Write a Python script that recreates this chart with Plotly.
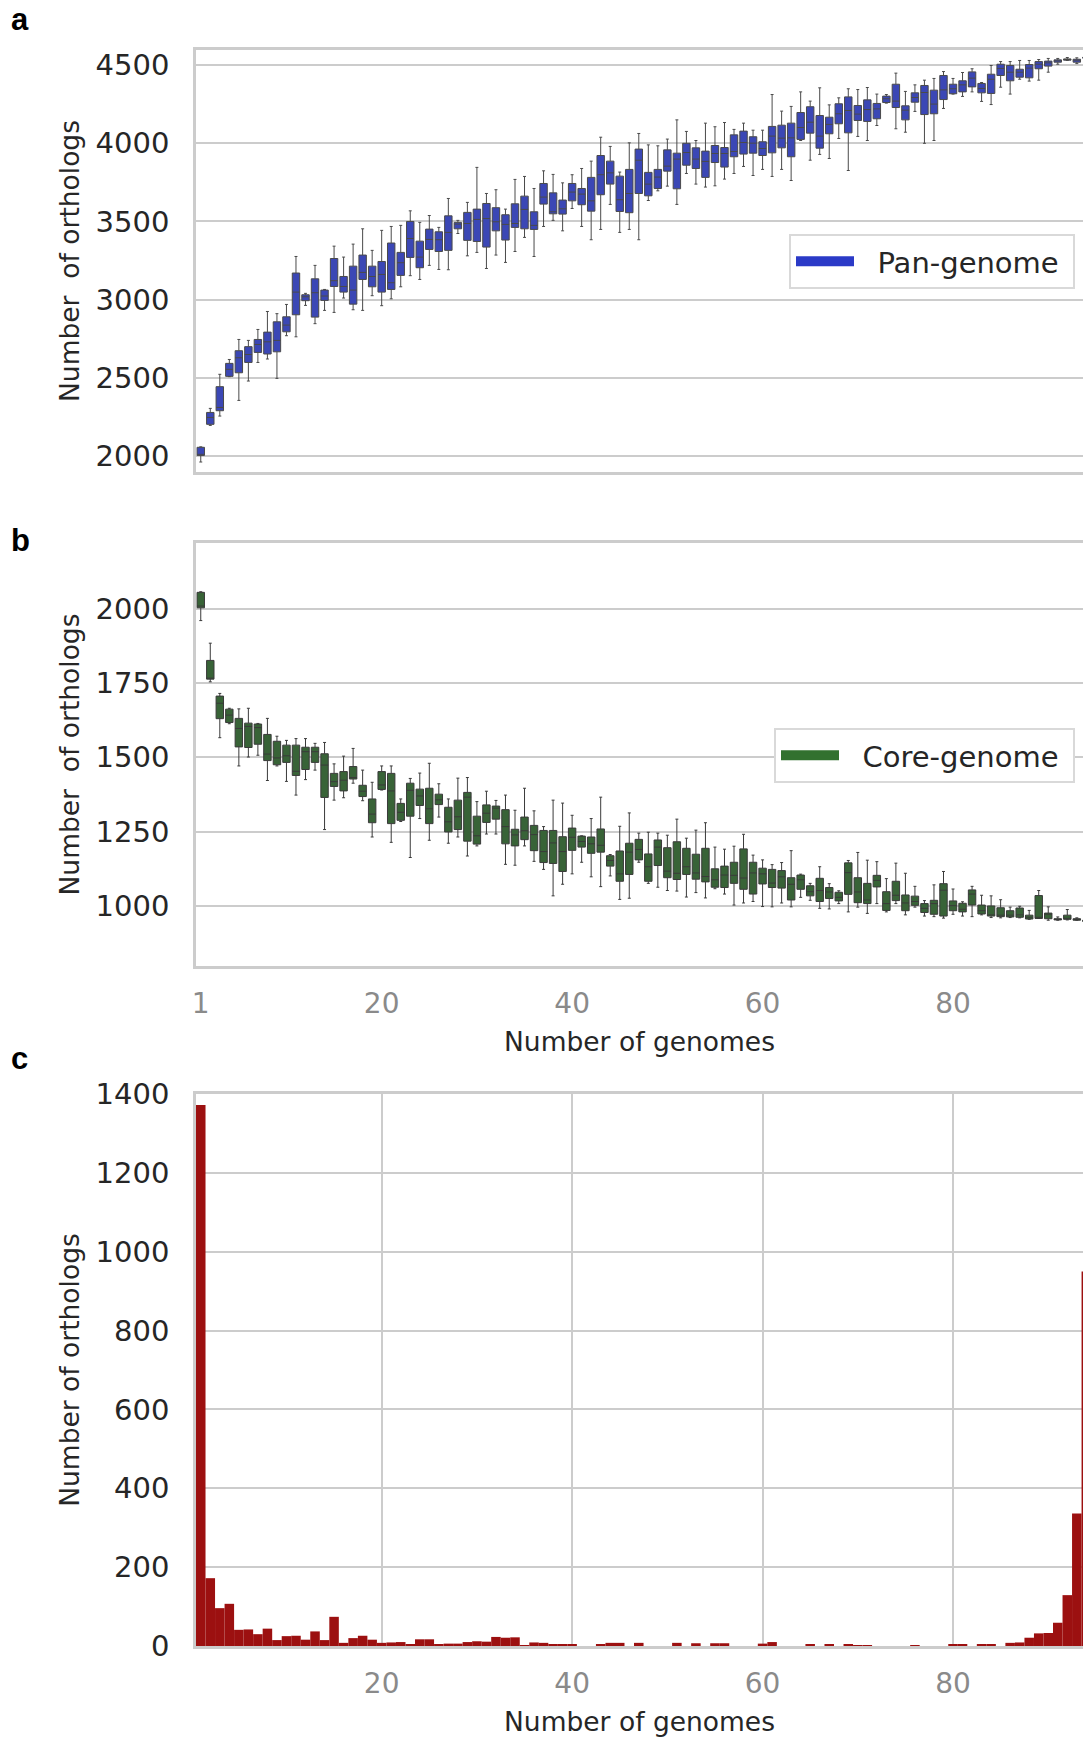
import plotly.graph_objects as go

W, H = 1083, 1739
genomes = list(range(1, 95))

# ---- Panel a: pan-genome (per number of genomes) ----
pan_q1 = [2003, 2202, 2289, 2509, 2532, 2598, 2662, 2652, 2666, 2794,
          2903, 2993, 2888, 2995, 3084, 3048, 2971, 3129, 3082, 3048,
          3065, 3155, 3270, 3204, 3321, 3308, 3315, 3453, 3379, 3372,
          3336, 3440, 3381, 3462, 3453, 3449, 3611, 3549, 3547, 3632,
          3607, 3566, 3671, 3739, 3564, 3556, 3679, 3664, 3711, 3822,
          3709, 3860, 3839, 3782, 3877, 3848, 3914, 3931, 3937, 3922,
          3939, 3971, 3914, 4025, 4065, 3969, 4061, 4125, 4067, 4146,
          4140, 4157, 4261, 4229, 4150, 4263, 4184, 4189, 4280, 4317,
          4329, 4361, 4323, 4319, 4434, 4400, 4423, 4419, 4477, 4494,
          4519, 4532, 4519, 4545]
pan_med = [2010, 2246, 2310, 2554, 2628, 2649, 2713, 2730, 2739, 2837,
           3048, 3018, 3044, 3023, 3121, 3084, 3061, 3174, 3148, 3161,
           3108, 3236, 3391, 3272, 3385, 3383, 3430, 3483, 3487, 3513,
           3519, 3498, 3481, 3487, 3577, 3475, 3656, 3562, 3581, 3688,
           3675, 3632, 3799, 3811, 3639, 3679, 3892, 3739, 3784, 3854,
           3899, 3941, 3899, 3884, 3935, 3935, 3948, 4005, 4001, 3967,
           4046, 4033, 4035, 4101, 4135, 4046, 4121, 4189, 4210, 4187,
           4216, 4220, 4285, 4270, 4212, 4293, 4325, 4251, 4342, 4349,
           4374, 4417, 4351, 4410, 4479, 4455, 4455, 4481, 4506, 4515,
           4528, 4536, 4532, 4548]
pan_q3 = [2055, 2278, 2443, 2592, 2673, 2699, 2745, 2792, 2858, 2890,
          3170, 3031, 3133, 3061, 3263, 3148, 3214, 3285, 3214, 3244,
          3362, 3302, 3500, 3374, 3451, 3434, 3536, 3494, 3558, 3579,
          3615, 3588, 3543, 3613, 3662, 3562, 3743, 3683, 3637, 3743,
          3711, 3782, 3922, 3886, 3790, 3833, 3963, 3814, 3833, 3958,
          3937, 4000, 3971, 3950, 3986, 3973, 4054, 4078, 4042, 4010,
          4108, 4116, 4129, 4197, 4234, 4178, 4167, 4253, 4297, 4242,
          4278, 4255, 4302, 4378, 4240, 4323, 4370, 4340, 4434, 4378,
          4400, 4457, 4383, 4442, 4506, 4498, 4474, 4504, 4523, 4526,
          4534, 4540, 4538, 4550]
pan_lo = [1961, 2195, 2255, 2507, 2355, 2479, 2598, 2620, 2496, 2769,
          2762, 2963, 2846, 2931, 2918, 3010, 2935, 2931, 3025, 2961,
          3005, 3082, 3153, 3129, 3219, 3193, 3191, 3423, 3280, 3302,
          3199, 3285, 3238, 3308, 3398, 3276, 3468, 3507, 3440, 3583,
          3468, 3383, 3449, 3609, 3430, 3449, 3383, 3634, 3696, 3726,
          3609, 3807, 3739, 3720, 3728, 3771, 3807, 3852, 3794, 3833,
          3788, 3833, 3762, 4018, 3892, 3929, 3903, 4031, 3826, 4044,
          4018, 4114, 4257, 4093, 4071, 4204, 4000, 4018, 4223, 4315,
          4300, 4329, 4268, 4248, 4359, 4315, 4410, 4398, 4404, 4455,
          4506, 4530, 4510, 4545]
pan_hi = [2058, 2304, 2522, 2617, 2745, 2739, 2809, 2924, 2910, 2969,
          3276, 3040, 3219, 3065, 3342, 3272, 3355, 3453, 3315, 3443,
          3468, 3475, 3568, 3494, 3538, 3462, 3647, 3507, 3622, 3846,
          3679, 3703, 3579, 3769, 3788, 3711, 3824, 3801, 3747, 3799,
          3839, 3886, 4039, 3980, 3816, 4003, 4063, 3990, 3984, 4027,
          4150, 4076, 4018, 4129, 4106, 4133, 4089, 4129, 4084, 4084,
          4312, 4206, 4236, 4329, 4270, 4355, 4246, 4291, 4349, 4344,
          4357, 4315, 4312, 4449, 4332, 4374, 4404, 4415, 4459, 4415,
          4453, 4477, 4389, 4498, 4523, 4523, 4530, 4530, 4536, 4543,
          4543, 4549, 4547, 4550]

# ---- Panel b: core-genome ----
core_q1 = [2003, 1763, 1630, 1617, 1535, 1533, 1544, 1489, 1475, 1483,
           1439, 1459, 1483, 1365, 1402, 1387, 1427, 1368, 1280, 1392,
           1277, 1288, 1302, 1338, 1277, 1341, 1249, 1257, 1218, 1208,
           1281, 1292, 1209, 1202, 1223, 1186, 1146, 1143, 1116, 1187,
           1198, 1177, 1181, 1134, 1083, 1106, 1155, 1083, 1136, 1095,
           1089, 1106, 1090, 1081, 1063, 1062, 1076, 1056, 1040, 1074,
           1062, 1060, 1020, 1056, 1034, 1015, 1025, 1017, 1039, 1011,
           1008, 1064, 985, 1018, 984, 1002, 978, 972, 966, 984,
           980, 1003, 973, 966, 964, 963, 962, 956, 958, 957,
           953, 955, 952, 948]
core_med = [2009, 1765, 1682, 1642, 1597, 1604, 1600, 1511, 1498, 1505,
            1453, 1519, 1519, 1474, 1418, 1423, 1432, 1386, 1309, 1407,
            1387, 1315, 1389, 1370, 1327, 1357, 1283, 1300, 1366, 1236,
            1312, 1329, 1267, 1239, 1253, 1240, 1183, 1212, 1183, 1231,
            1217, 1209, 1204, 1153, 1108, 1181, 1190, 1132, 1198, 1117,
            1110, 1132, 1111, 1099, 1088, 1104, 1103, 1094, 1111, 1108,
            1077, 1098, 1073, 1088, 1048, 1052, 1047, 1029, 1112, 1047,
            1020, 1086, 1008, 1036, 1010, 1015, 992, 1008, 1053, 1001,
            989, 1040, 984, 970, 969, 969, 970, 962, 962, 972,
            955, 958, 955, 950]
core_q3 = [2055, 1826, 1706, 1662, 1631, 1615, 1612, 1577, 1554, 1541,
           1541, 1534, 1534, 1512, 1446, 1452, 1469, 1406, 1360, 1452,
           1446, 1345, 1413, 1393, 1396, 1376, 1332, 1356, 1382, 1302,
           1340, 1336, 1324, 1258, 1299, 1271, 1254, 1254, 1233, 1262,
           1235, 1232, 1259, 1169, 1185, 1211, 1224, 1175, 1222, 1196,
           1216, 1194, 1174, 1194, 1125, 1134, 1147, 1192, 1147, 1127,
           1123, 1119, 1095, 1104, 1068, 1093, 1062, 1046, 1145, 1095,
           1076, 1103, 1048, 1083, 1037, 1033, 1008, 1019, 1075, 1017,
           1009, 1054, 1003, 1000, 994, 984, 993, 969, 1035, 976,
           957, 969, 957, 952]
core_lo = [1960, 1754, 1566, 1613, 1471, 1501, 1507, 1422, 1471, 1419,
           1373, 1425, 1457, 1257, 1356, 1364, 1413, 1354, 1232, 1390,
           1214, 1284, 1163, 1294, 1221, 1299, 1211, 1232, 1168, 1202,
           1242, 1242, 1140, 1137, 1202, 1150, 1123, 1034, 1073, 1108,
           1147, 1098, 1065, 1101, 1022, 1026, 1147, 1076, 1063, 1052,
           1050, 1030, 1045, 1027, 1058, 1040, 1003, 1010, 1015, 998,
           997, 1010, 997, 1029, 1019, 992, 990, 1008, 980, 996,
           975, 1008, 980, 1008, 970, 996, 966, 964, 959, 972,
           966, 964, 970, 961, 960, 961, 960, 955, 958, 952,
           952, 953, 952, 947]
core_hi = [2057, 1884, 1715, 1665, 1663, 1665, 1614, 1631, 1571, 1557,
           1563, 1563, 1547, 1550, 1478, 1504, 1530, 1457, 1416, 1471,
           1471, 1360, 1429, 1447, 1480, 1411, 1360, 1430, 1432, 1351,
           1386, 1355, 1373, 1322, 1396, 1320, 1267, 1356, 1346, 1305,
           1236, 1294, 1366, 1173, 1268, 1313, 1245, 1248, 1245, 1238,
           1292, 1228, 1255, 1280, 1198, 1191, 1201, 1241, 1171, 1155,
           1139, 1146, 1186, 1107, 1076, 1132, 1075, 1051, 1153, 1180,
           1154, 1149, 1092, 1144, 1110, 1066, 1018, 1071, 1116, 1057,
           1014, 1066, 1036, 1034, 1021, 996, 999, 985, 1052, 997,
           963, 988, 960, 953]

# ---- Panel c: number of orthologs shared by exactly n genomes ----
ortholog_counts = [1372, 172, 96, 107, 41, 42, 30, 44, 15, 25,
                   26, 16, 37, 15, 74, 8, 20, 26, 16, 8,
                   9, 10, 5, 17, 17, 5, 6, 6, 10, 12,
                   11, 23, 21, 22, 2, 9, 8, 5, 4, 3,
                   0, 0, 4, 8, 8, 0, 8, 0, 0, 0,
                   8, 0, 7, 0, 7, 7, 0, 0, 0, 6,
                   10, 0, 0, 0, 3, 0, 3, 0, 5, 2,
                   2, 0, 0, 0, 0, 2, 0, 0, 0, 4,
                   4, 0, 4, 4, 0, 8, 9, 21, 32, 33,
                   59, 129, 336, 950]

pan_ticks = [2000, 2500, 3000, 3500, 4000, 4500]
core_ticks = [1000, 1250, 1500, 1750, 2000]
hist_ticks = [0, 200, 400, 600, 800, 1000, 1200, 1400]
x_ticks_b = [1, 20, 40, 60, 80]
x_ticks_c = [20, 40, 60, 80]

PAN_FILL, PAN_LEG = "#3b47b5", "#2b3ac7"
CORE_FILL, CORE_LEG = "#386337", "#32712f"
HIST_COL = "#9c1010"
GRID = "#cccccc"
TXT = "#262626"
FONT = "DejaVu Sans"

L = 196
def pxx(p):
    return (p - L) / (W - L)
def pxy(p):
    return (H - p) / H

NB = "\u00a0"

fig = go.Figure()
fig.add_trace(go.Box(x=genomes, q1=pan_q1, median=pan_med, q3=pan_q3,
                     lowerfence=pan_lo, upperfence=pan_hi,
                     xaxis="x", yaxis="y", fillcolor=PAN_FILL,
                     line=dict(color="#4a4a4a", width=1), width=0.78,
                     whiskerwidth=0.4, boxpoints=False, showlegend=False,
                     hoverinfo="skip"))
fig.add_trace(go.Scatter(x=[None], y=[None], mode="lines",
                         name=NB * 2 + "Pan-genome" + NB,
                         line=dict(color=PAN_LEG, width=10), xaxis="x", yaxis="y",
                         legend="legend", showlegend=True))
fig.add_trace(go.Box(x=genomes, q1=core_q1, median=core_med, q3=core_q3,
                     lowerfence=core_lo, upperfence=core_hi,
                     xaxis="x2", yaxis="y2", fillcolor=CORE_FILL,
                     line=dict(color="#3a3a3a", width=1), width=0.78,
                     whiskerwidth=0.4, boxpoints=False, showlegend=False,
                     hoverinfo="skip"))
fig.add_trace(go.Scatter(x=[None], y=[None], mode="lines",
                         name=NB * 2 + "Core-genome" + NB,
                         line=dict(color=CORE_LEG, width=10), xaxis="x2", yaxis="y2",
                         legend="legend2", showlegend=True))
fig.add_trace(go.Bar(x=genomes, y=ortholog_counts, width=1.0, xaxis="x3", yaxis="y3",
                     marker=dict(color=HIST_COL, line=dict(width=0)),
                     showlegend=False, hoverinfo="skip"))

xr = [0.5, 93.65]
common_x = dict(range=xr, showline=True, mirror=True, linecolor=GRID, linewidth=2.7,
                zeroline=False, ticks="", automargin=False, domain=[0, 1])
common_y = dict(showline=True, mirror=False, linecolor=GRID, linewidth=2.7,
                zeroline=False, ticks="", showgrid=True, gridcolor=GRID, gridwidth=1.8,
                tickfont=dict(family=FONT, size=29, color=TXT), automargin=False,
                ticklabelstandoff=18)
ytitle_font = dict(family=FONT, size=26.5, color=TXT)
xtick_font = dict(family=FONT, size=28, color="#8a8a8a")
leg_font = dict(family=FONT, size=29, color=TXT)

fig.update_layout(
    width=W, height=H,
    margin=dict(l=L, r=0, t=0, b=0, pad=0),
    paper_bgcolor="white", plot_bgcolor="white",
    font=dict(family=FONT, color=TXT),
    xaxis=dict(common_x, anchor="y", showgrid=False, showticklabels=False),
    yaxis=dict(common_y, anchor="x", domain=[pxy(472), pxy(50)], range=[1897, 4597],
               tickvals=pan_ticks,
               title=dict(text="Number" + NB + " of orthologs", font=ytitle_font, standoff=9)),
    xaxis2=dict(common_x, anchor="y2", showgrid=False, tickvals=x_ticks_b,
                tickfont=xtick_font, ticklabelstandoff=11,
                title=dict(text="Number of genomes", font=ytitle_font, standoff=13)),
    yaxis2=dict(common_y, anchor="x2", domain=[pxy(966), pxy(543)], range=[798, 2221],
                tickvals=core_ticks,
                title=dict(text="Number" + NB + " of orthologs", font=ytitle_font, standoff=9)),
    xaxis3=dict(common_x, anchor="y3", showgrid=True, gridcolor=GRID, gridwidth=1.8,
                tickvals=x_ticks_c, tickfont=xtick_font, ticklabelstandoff=11,
                title=dict(text="Number of genomes", font=ytitle_font, standoff=13)),
    yaxis3=dict(common_y, anchor="x3", domain=[pxy(1646), pxy(1094)], range=[0, 1400],
                tickvals=hist_ticks,
                title=dict(text="Number of orthologs", font=ytitle_font, standoff=9)),
    legend=dict(x=pxx(1075), xanchor="right", y=pxy(234), yanchor="top",
                bgcolor="white", bordercolor="#d9d9d9", borderwidth=2,
                font=leg_font, itemwidth=58),
    legend2=dict(x=pxx(1075), xanchor="right", y=pxy(728), yanchor="top",
                 bgcolor="white", bordercolor="#d9d9d9", borderwidth=2,
                 font=leg_font, itemwidth=58),
    annotations=[
        dict(text="<b>a</b>", x=pxx(9), y=pxy(19), xref="paper", yref="paper",
             xanchor="left", yanchor="middle", showarrow=False,
             font=dict(family="Liberation Sans, Arial", size=31, color="black")),
        dict(text="<b>b</b>", x=pxx(9), y=pxy(540), xref="paper", yref="paper",
             xanchor="left", yanchor="middle", showarrow=False,
             font=dict(family="Liberation Sans, Arial", size=31, color="black")),
        dict(text="<b>c</b>", x=pxx(9), y=pxy(1058), xref="paper", yref="paper",
             xanchor="left", yanchor="middle", showarrow=False,
             font=dict(family="Liberation Sans, Arial", size=31, color="black")),
    ],
)

fig.write_html("out.html",
               config={"displayModeBar": False},
               post_script="document.body.style.margin='0px';"
                           "document.body.style.overflow='hidden';")
